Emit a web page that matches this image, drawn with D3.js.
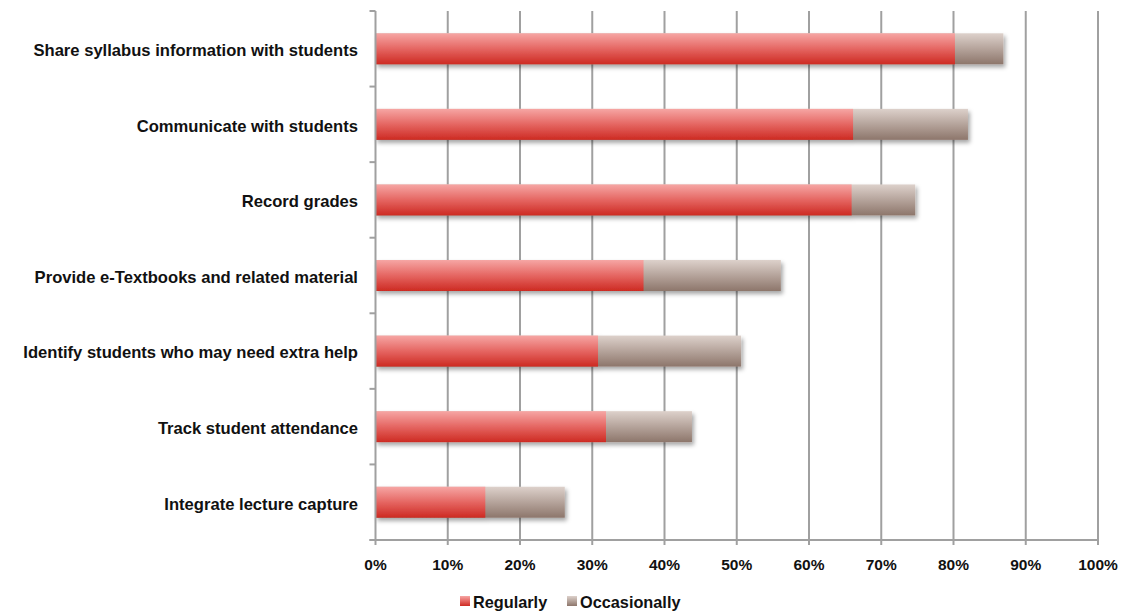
<!DOCTYPE html>
<html><head><meta charset="utf-8">
<script src="https://cdn.jsdelivr.net/npm/d3@7"></script>
<style>body{margin:0;background:#fff}svg{display:block}text{font-family:"Liberation Sans",Arial,sans-serif;font-weight:bold;fill:#111}</style>
</head><body><svg id="c" width="1134" height="613"></svg>
<script>
const categories = ["Share syllabus information with students","Communicate with students","Record grades","Provide e-Textbooks and related material","Identify students who may need extra help","Track student attendance","Integrate lecture capture"];
const regularly = [80.2, 66.1, 65.9, 37.1, 30.8, 31.9, 15.2];
const occasionally = [6.7, 15.9, 8.8, 19.0, 19.8, 11.9, 11.0];
const xTicks = [0,10,20,30,40,50,60,70,80,90,100];
const seriesNames = ["Regularly","Occasionally"];

(function(){
const svg = d3.select("#c");
const pl = 375.5, pr = 1098, pt = 11, pb = 540;
const x = d3.scaleLinear().domain([0,100]).range([pl,pr]);
const y = d3.scaleBand().domain(categories).range([pt,pb]).paddingInner(0.59).paddingOuter(0.295);
const band = d3.scaleBand().domain(categories).range([pt,pb]);

const defs = svg.append("defs");
const g1 = defs.append("linearGradient").attr("id","gr").attr("x1",0).attr("y1",0).attr("x2",0).attr("y2",1);
g1.append("stop").attr("offset","0%").attr("stop-color","#f6a6a4");
g1.append("stop").attr("offset","50%").attr("stop-color","#e56662");
g1.append("stop").attr("offset","100%").attr("stop-color","#cd2a22");
const g2 = defs.append("linearGradient").attr("id","gg").attr("x1",0).attr("y1",0).attr("x2",0).attr("y2",1);
g2.append("stop").attr("offset","0%").attr("stop-color","#ddd1cb");
g2.append("stop").attr("offset","100%").attr("stop-color","#8d766b");
const f = defs.append("filter").attr("id","sh").attr("x","-5%").attr("y","-30%").attr("width","115%").attr("height","170%");
f.append("feDropShadow").attr("dx",2).attr("dy",3).attr("stdDeviation",2).attr("flood-color","#000").attr("flood-opacity",0.35);

svg.append("g").selectAll("line").data(xTicks.slice(1)).join("line")
  .attr("x1",d=>x(d)).attr("x2",d=>x(d)).attr("y1",pt).attr("y2",pb)
  .attr("stroke","#a0a0a0").attr("stroke-width",2);

const rows = svg.append("g").selectAll("g").data(categories).join("g").attr("filter","url(#sh)");
rows.append("rect").attr("x",x(0)).attr("y",d=>y(d)).attr("height",y.bandwidth())
  .attr("width",(d,i)=>x(regularly[i]+occasionally[i])-x(0)).attr("fill","url(#gg)");
rows.append("rect").attr("x",x(0)).attr("y",d=>y(d)).attr("height",y.bandwidth())
  .attr("width",(d,i)=>x(regularly[i])-x(0)).attr("fill","url(#gr)");

svg.append("line").attr("x1",pl).attr("x2",pl).attr("y1",pt).attr("y2",pb).attr("stroke","#a0a0a0").attr("stroke-width",2);
const edges = categories.map(c=>band(c)).concat([pb]);
svg.append("g").selectAll("line").data(edges).join("line")
  .attr("x1",pl-6).attr("x2",pl).attr("y1",d=>d).attr("y2",d=>d).attr("stroke","#a0a0a0").attr("stroke-width",2);
svg.append("g").selectAll("text").data(categories).join("text")
  .attr("x",358).attr("y",d=>band(d)+band.bandwidth()/2+1.5).attr("dy","0.35em").attr("text-anchor","end")
  .attr("font-size",16.6).text(d=>d);

svg.append("line").attr("x1",pl-6).attr("x2",pr).attr("y1",pb).attr("y2",pb).attr("stroke","#a0a0a0").attr("stroke-width",2);
svg.append("g").selectAll("line").data(xTicks).join("line")
  .attr("x1",d=>x(d)).attr("x2",d=>x(d)).attr("y1",pb).attr("y2",pb+5).attr("stroke","#a0a0a0").attr("stroke-width",2);
svg.append("g").selectAll("text").data(xTicks).join("text")
  .attr("x",d=>x(d)).attr("y",570).attr("text-anchor","middle").attr("font-size",15.5).text(d=>d+"%");

const leg = svg.append("g");
const lx = [460, 567];
seriesNames.forEach((s,i)=>{
  leg.append("rect").attr("x",lx[i]).attr("y",596).attr("width",10).attr("height",10).attr("fill",i===0?"url(#gr)":"url(#gg)");
  leg.append("text").attr("x",lx[i]+13).attr("y",608).attr("font-size",16.3).text(s);
});
})();
</script></body></html>
